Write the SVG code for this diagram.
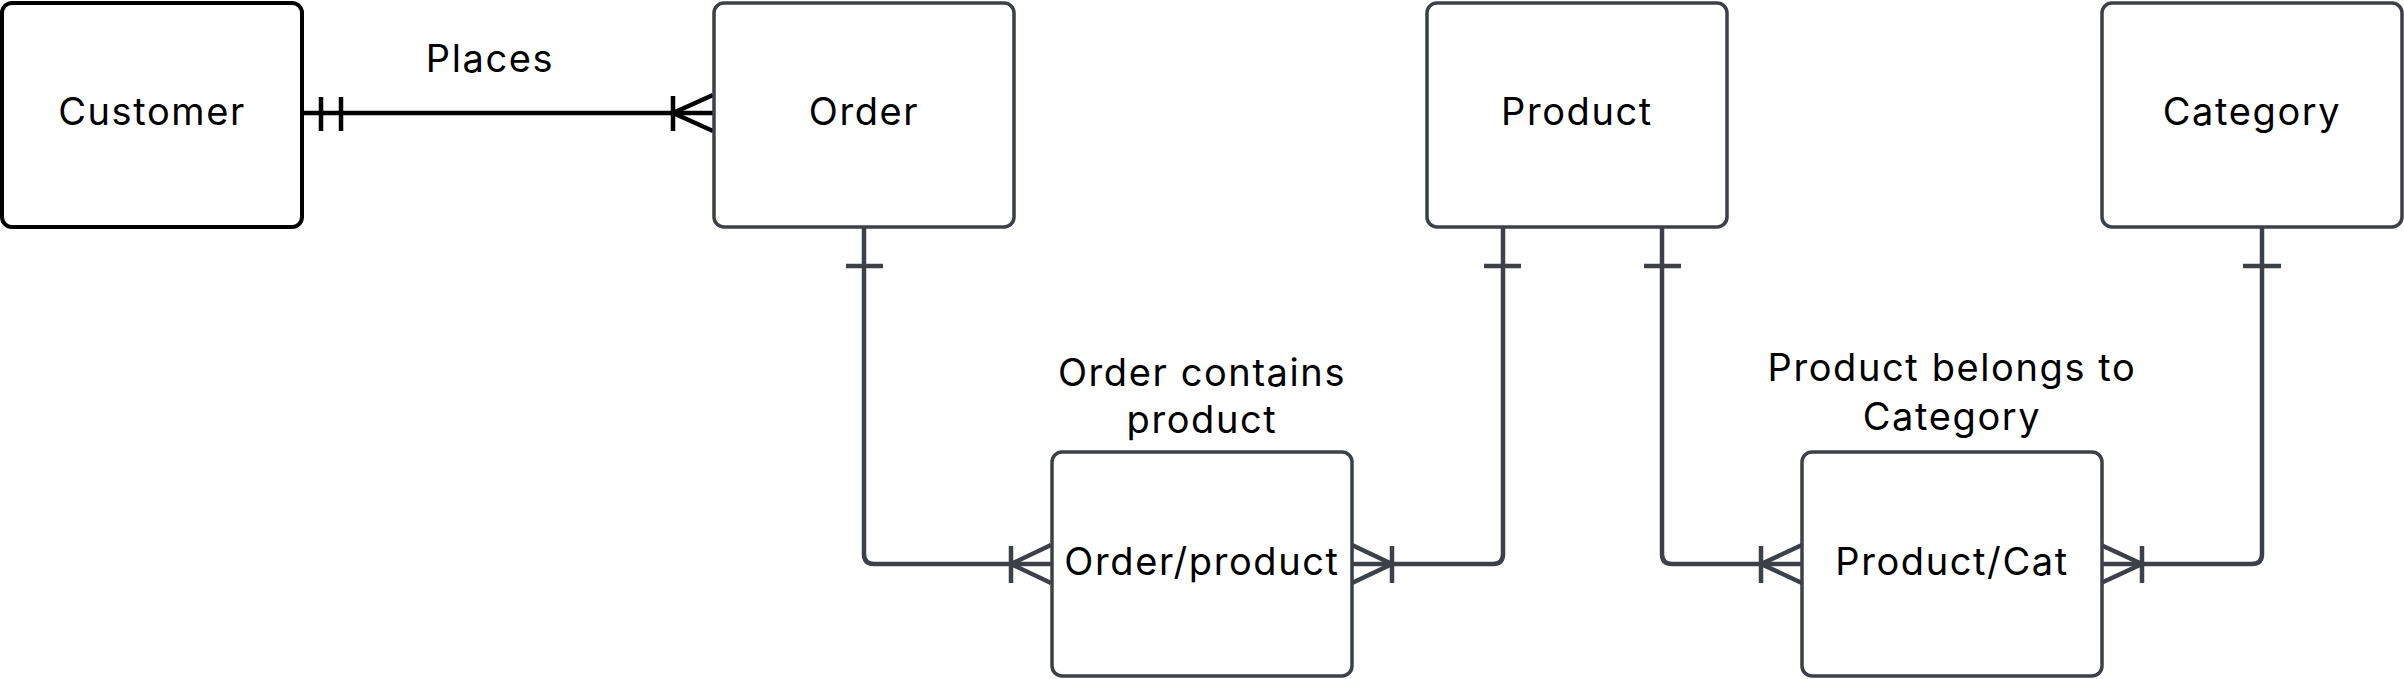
<svg xmlns="http://www.w3.org/2000/svg" width="2404" height="679" viewBox="0 0 2404 679">
<style>
.box{fill:#fff;stroke:#3c4048;stroke-width:3.5}
.box.dark{stroke:#000;stroke-width:4}
.t{font-family:Inter,"Liberation Sans",sans-serif;font-size:38px;letter-spacing:1.6px;fill:#000;text-anchor:middle}
.c{fill:none;stroke:#3c4048;stroke-width:4.5;stroke-linejoin:round}
.c.dark{stroke:#000}
</style>
<rect width="2404" height="679" fill="#fff"/>
<g id="connectors">
<g id="customer-order">
<path class="c dark" d="M302 113H713"/>
<path class="c dark" d="M321 97V131M341 97V131"/>
<path class="c dark" d="M673 96V131M713 95L673 113L713 131"/>
<text class="t" x="490" y="72">Places</text>
</g>
<g id="order-op">
<path class="c" d="M864 227V554Q864 564 874 564H1051"/>
<path class="c" d="M846 266H883"/>
<path class="c" d="M1011 546V583M1051 545L1011 564L1051 583"/>
</g>
<g id="product-op">
<path class="c" d="M1503 227V554Q1503 564 1493 564H1352"/>
<path class="c" d="M1484 266H1521"/>
<path class="c" d="M1392 546V583M1352 545L1392 564L1352 583"/>
<text class="t" x="1202" y="386">Order contains</text>
<text class="t" x="1202" y="433">product</text>
</g>
<g id="product-pc">
<path class="c" d="M1662 227V554Q1662 564 1672 564H1802"/>
<path class="c" d="M1644 266H1681"/>
<path class="c" d="M1761 546V583M1802 545L1761 564L1802 583"/>
</g>
<g id="category-pc">
<path class="c" d="M2262 227V554Q2262 564 2252 564H2101"/>
<path class="c" d="M2243 266H2281"/>
<path class="c" d="M2142 546V583M2101 545L2142 564L2101 583"/>
<text class="t" x="1952" y="381">Product belongs to</text>
<text class="t" x="1952" y="430">Category</text>
</g>
</g>
<g id="customer"><rect class="box dark" x="2" y="3" width="300" height="224" rx="10"/><text class="t" x="152" y="125">Customer</text></g>
<g id="order"><rect class="box" x="714" y="3" width="300" height="224" rx="10"/><text class="t" x="864" y="125">Order</text></g>
<g id="product"><rect class="box" x="1427" y="3" width="300" height="224" rx="10"/><text class="t" x="1577" y="125">Product</text></g>
<g id="category"><rect class="box" x="2102" y="3" width="300" height="224" rx="10"/><text class="t" x="2252" y="125">Category</text></g>
<g id="order-product"><rect class="box" x="1052" y="452" width="300" height="224" rx="10"/><text class="t" x="1202" y="575">Order/product</text></g>
<g id="product-cat"><rect class="box" x="1802" y="452" width="300" height="224" rx="10"/><text class="t" x="1952" y="575">Product/Cat</text></g>
</svg>
